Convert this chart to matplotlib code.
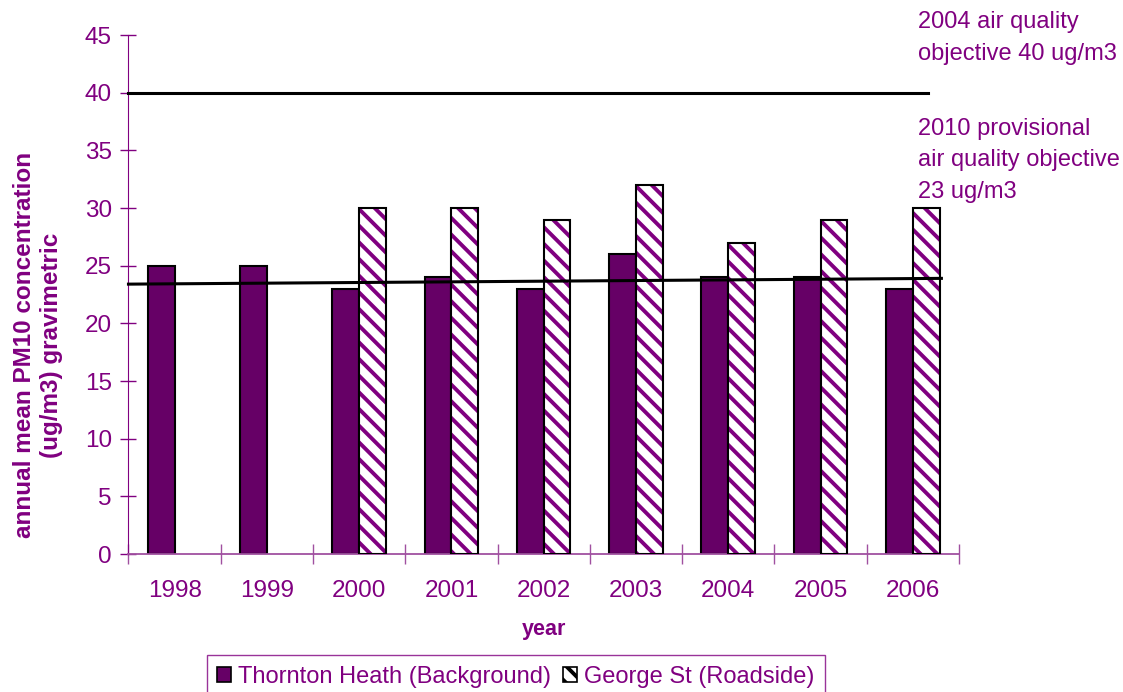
import matplotlib
matplotlib.use("Agg")
import matplotlib.pyplot as plt
import numpy as np

plt.rcParams['font.family'] = ['Liberation Sans', 'DejaVu Sans']
plt.rcParams['hatch.linewidth'] = 2.8

years = ['1998', '1999', '2000', '2001', '2002', '2003', '2004', '2005', '2006']
thornton = [25, 25, 23, 24, 23, 26, 24, 24, 23]
george = [np.nan, np.nan, 30, 30, 29, 32, 27, 29, 30]

objective_2004 = 40
# 2010 objective line as drawn (slight slope across the plot)
objective_2010 = [23.4, 23.9]

purple = '#800080'
dark = '#660066'

fig = plt.figure(figsize=(11.23, 6.92), dpi=100)
ax = fig.add_axes([0.1144, 0.1994, 0.7395, 0.75])

x = np.arange(len(years))
w = 0.29
ax.bar(x - w / 2, thornton, w, color=dark, edgecolor='black', linewidth=1.5,
       label='Thornton Heath (Background)', zorder=2)
ax.bar(x + w / 2, george, w, color='white', edgecolor=purple, hatch='\\\\',
       linewidth=0, zorder=2)
ax.bar(x + w / 2, george, w, fill=False, edgecolor='black', linewidth=1.5, zorder=3)
# legend proxy for the hatched series
ax.bar([0], [0], 0, color='white', edgecolor=purple, hatch='\\\\',
       label='George St (Roadside)')

ax.plot([-0.5, 8.17], [objective_2004, objective_2004], color='black', lw=2.2,
        zorder=4, clip_on=False)
ax.plot([-0.5, 8.31], objective_2010, color='black', lw=2.2, zorder=4,
        clip_on=False)

ax.set_xlim(-0.5, 8.5)
ax.set_ylim(0, 45)
ax.set_yticks(np.arange(0, 46, 5))
ax.set_xticks(np.arange(-0.5, 9, 1))
ax.set_xticklabels([])
ax.set_xticks(x, minor=True)
ax.set_xticklabels(years, minor=True)
ax.tick_params(axis='x', which='major', direction='inout', length=14,
               color='#a050a0', width=1)
ax.tick_params(axis='x', which='minor', length=0, pad=19, labelsize=17.5,
               labelcolor=purple)
ax.tick_params(axis='y', direction='inout', length=12, color=purple, width=1,
               pad=6, labelsize=17.5, labelcolor=purple)

for s in ['top', 'right']:
    ax.spines[s].set_visible(False)
ax.spines['left'].set_color(purple)
ax.spines['bottom'].set_color('#a050a0')
ax.spines['bottom'].set_linewidth(1.3)

ax.set_xlabel('year', fontsize=15.5, fontweight='bold', color=purple, labelpad=12)
fig.text(38 / 1123, 1 - 345 / 692,
         'annual mean PM10 concentration\n(ug/m3) gravimetric',
         rotation=90, ha='center', va='center', multialignment='center',
         fontsize=17.5, fontweight='bold', color=purple, linespacing=1.25)

fig.text(918 / 1123, 1 - 11 / 692, '2004 air quality\nobjective 40 ug/m3',
         ha='left', va='top', fontsize=17, color=purple, linespacing=1.6)
fig.text(918 / 1123, 1 - 118 / 692,
         '2010 provisional\nair quality objective\n23 ug/m3',
         ha='left', va='top', fontsize=17, color=purple, linespacing=1.55)

leg = fig.legend(loc='upper center', bbox_to_anchor=(516 / 1123, 1 - 655 / 692),
                 ncol=2, fontsize=17, frameon=True, fancybox=False,
                 handlelength=0.6, handleheight=0.6, handletextpad=0.3,
                 columnspacing=0.5, borderpad=0.45, borderaxespad=0,
                 labelcolor=purple, edgecolor=purple)
leg.get_frame().set_linewidth(1)
for h in leg.legend_handles:
    h.set_edgecolor('black')
    h.set_linewidth(1.2)

fig.savefig('out.png', dpi=100)
